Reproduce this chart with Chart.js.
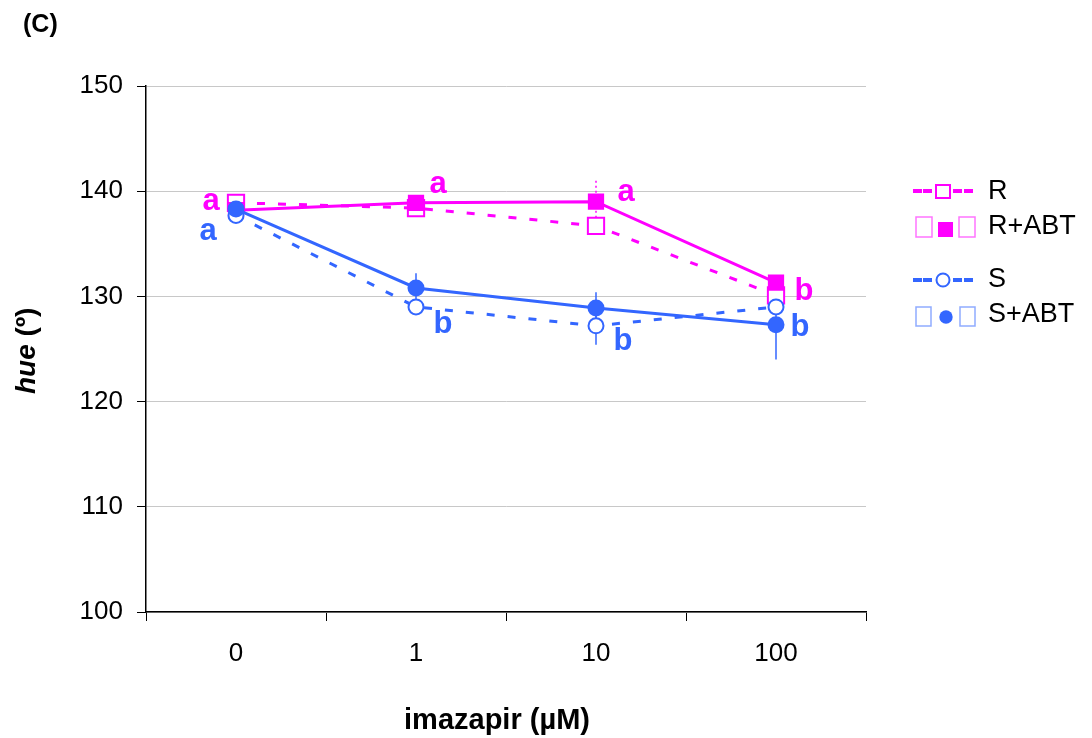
<!DOCTYPE html>
<html>
<head>
<meta charset="utf-8">
<script src="https://cdn.jsdelivr.net/npm/chart.js@4/dist/chart.umd.min.js"></script>
<style>
  html, body { margin: 0; padding: 0; background: #fff; }
  #wrap { width: 1092px; height: 738px; }
</style>
</head>
<body>
<div id="wrap"><canvas id="c" width="1092" height="738"></canvas></div>
<script>
// imazapir doses (µM) and mean hue angle per line
const doses = ['0', '1', '10', '100'];
const hueR = [138.9, 138.4, 136.7, 130.1];
const hueRAbt = [138.2, 138.9, 139.0, 131.3];
const hueS = [137.7, 129.0, 127.2, 129.0];
const hueSAbt = [138.3, 130.8, 128.9, 127.3];

// standard errors
const errR = [0, 0, 0.8, 0];
const errRAbt = [0, 0, 2.0, 0];
const errS = [0, 0, 1.8, 0];
const errSAbt = [0, 1.4, 1.5, 3.3];

// significance letters
const lettersR = ['a', 'a', 'a', 'b'];
const lettersS = ['a', 'b', 'b', 'b'];

const yMin = 100, yMax = 150, yStep = 10;

const MAG = '#ff00ff';
const BLUE = '#3366ff';
const FONT = '"Liberation Sans", Arial, Helvetica, sans-serif';

// where each letter sits: pixel shift from the dose column, baseline in hue units
const letterSpots = {
  R: [{ dx: -25, v: 138.2 }, { dx: 22, v: 139.83 }, { dx: 30, v: 139.07 }, { dx: 28, v: 129.66 }],
  S: [{ dx: -28, v: 135.36 }, { dx: 27, v: 126.52 }, { dx: 27, v: 124.9 }, { dx: 24, v: 126.24 }]
};

const errorBars = {
  id: 'errorBars',
  beforeDatasetsDraw(chart) {
    const ctx = chart.ctx;
    const ys = chart.scales.y;
    chart.data.datasets.forEach((ds, i) => {
      const meta = chart.getDatasetMeta(i);
      if (!ds.errors) return;
      ctx.save();
      ctx.strokeStyle = ds.borderColor;
      ctx.lineWidth = 1.5;
      if (ds.errDash) ctx.setLineDash(ds.errDash);
      ds.errors.forEach((e, j) => {
        if (!e) return;
        const x = meta.data[j].x;
        ctx.beginPath();
        ctx.moveTo(x, ys.getPixelForValue(ds.data[j] - e));
        ctx.lineTo(x, ys.getPixelForValue(ds.data[j] + e));
        ctx.stroke();
      });
      ctx.restore();
    });
  }
};

function tofu(ctx, x, y, w, h, color) {
  ctx.save();
  ctx.globalAlpha = 0.55;
  ctx.strokeStyle = color;
  ctx.lineWidth = 1.5;
  ctx.strokeRect(x, y, w, h);
  ctx.restore();
}

function dashedSample(ctx, y, color) {
  ctx.save();
  ctx.fillStyle = color;
  [[913, 9], [923, 9], [953, 9], [964, 9]].forEach(([x, w]) => ctx.fillRect(x, y - 2, w, 4));
  ctx.restore();
}

const decorations = {
  id: 'decorations',
  afterDraw(chart) {
    const ctx = chart.ctx;
    const xs = chart.scales.x, ys = chart.scales.y;

    // significance letters
    ctx.save();
    ctx.font = 'bold 31px ' + FONT;
    ctx.textAlign = 'center';
    ctx.textBaseline = 'alphabetic';
    ctx.fillStyle = MAG;
    lettersR.forEach((t, i) => {
      const s = letterSpots.R[i];
      ctx.fillText(t, xs.getPixelForValue(i) + s.dx, ys.getPixelForValue(s.v));
    });
    ctx.fillStyle = BLUE;
    lettersS.forEach((t, i) => {
      const s = letterSpots.S[i];
      ctx.fillText(t, xs.getPixelForValue(i) + s.dx, ys.getPixelForValue(s.v));
    });
    ctx.restore();

    // panel tag
    ctx.save();
    ctx.fillStyle = '#000';
    ctx.font = 'bold 25px ' + FONT;
    ctx.textBaseline = 'middle';
    ctx.fillText('(C)', 23, 25);

    // x title
    ctx.font = 'bold 29px ' + FONT;
    ctx.textAlign = 'center';
    ctx.fillText('imazapir (\u00b5M)', 497, 721);

    // y title: italic "hue" followed by upright "(º)", read bottom to top
    ctx.translate(27, 394);
    ctx.rotate(-Math.PI / 2);
    ctx.textAlign = 'left';
    const f1 = 'italic bold 28px ' + FONT, f2 = 'bold 28px ' + FONT;
    ctx.font = f1; const w1 = ctx.measureText('hue').width;
    ctx.font = f1; ctx.fillText('hue', 0, 0);
    ctx.font = f2; ctx.fillText(' (\u00ba)', w1, 0);
    ctx.restore();

    // legend
    ctx.save();
    ctx.font = '27px ' + FONT;
    ctx.fillStyle = '#000';
    ctx.textBaseline = 'middle';
    ctx.fillText('R', 988, 192);
    ctx.fillText('R+ABT', 988, 227);
    ctx.fillText('S', 988, 280);
    ctx.fillText('S+ABT', 988, 315);

    // R
    dashedSample(ctx, 191, MAG);
    ctx.fillStyle = '#fff';
    ctx.fillRect(936, 185, 14, 13);
    ctx.strokeStyle = MAG; ctx.lineWidth = 2;
    ctx.strokeRect(936, 185, 14, 13);
    // R+ABT
    tofu(ctx, 916, 217, 16, 20, MAG);
    ctx.fillStyle = MAG;
    ctx.fillRect(938, 222, 15, 15);
    tofu(ctx, 959, 217, 16, 20, MAG);
    // S
    dashedSample(ctx, 280, BLUE);
    ctx.beginPath();
    ctx.arc(943, 280, 6.5, 0, Math.PI * 2);
    ctx.fillStyle = '#fff'; ctx.fill();
    ctx.strokeStyle = BLUE; ctx.lineWidth = 2; ctx.stroke();
    // S+ABT
    tofu(ctx, 916, 307, 15, 19, BLUE);
    ctx.beginPath();
    ctx.arc(946, 317, 6.7, 0, Math.PI * 2);
    ctx.fillStyle = BLUE; ctx.fill();
    tofu(ctx, 960, 307, 15, 19, BLUE);
    ctx.restore();
  }
};

const tickFont = { family: FONT, size: 26 };

new Chart(document.getElementById('c'), {
  type: 'line',
  data: {
    labels: doses,
    datasets: [
      {
        label: 'R', data: hueR, errors: errR, errDash: [2, 3], order: 3,
        borderColor: MAG, borderWidth: 3, borderDash: [8, 13],
        pointStyle: 'rect', pointRadius: 11.5, pointBorderWidth: 2,
        pointBackgroundColor: '#fff', pointBorderColor: MAG
      },
      {
        label: 'R+ABT', data: hueRAbt, errors: errRAbt, errDash: [2, 3], order: 2,
        borderColor: MAG, borderWidth: 3,
        pointStyle: 'rect', pointRadius: 11.5, pointBorderWidth: 0,
        pointBackgroundColor: MAG, pointBorderColor: MAG
      },
      {
        label: 'S', data: hueS, errors: errS, order: 1,
        borderColor: BLUE, borderWidth: 3, borderDash: [8, 13],
        pointStyle: 'circle', pointRadius: 7.5, pointBorderWidth: 2,
        pointBackgroundColor: '#fff', pointBorderColor: BLUE
      },
      {
        label: 'S+ABT', data: hueSAbt, errors: errSAbt, order: 0,
        borderColor: BLUE, borderWidth: 3,
        pointStyle: 'circle', pointRadius: 8.5, pointBorderWidth: 0,
        pointBackgroundColor: BLUE, pointBorderColor: BLUE
      }
    ]
  },
  options: {
    responsive: false,
    animation: false,
    layout: { padding: { top: 86, right: 226, left: 0, bottom: 0 } },
    plugins: { legend: { display: false }, tooltip: { enabled: false } },
    scales: {
      x: {
        offset: true,
        grid: { offset: true, drawOnChartArea: false, drawTicks: true, tickLength: 9, color: '#000', lineWidth: 1 },
        border: { color: '#000', width: 1.5 },
        ticks: { font: tickFont, color: '#000', padding: 17 },
        afterFit(s) { s.height = 126; }
      },
      y: {
        min: yMin, max: yMax,
        grid: { color: '#c8c8c8', tickColor: '#000', tickLength: 9, lineWidth: 1 },
        border: { color: '#000', width: 1.5 },
        ticks: { stepSize: yStep, font: tickFont, color: '#000', padding: 14 },
        afterFit(s) { s.width = 146; }
      }
    }
  },
  plugins: [errorBars, decorations]
});
</script>
</body>
</html>
